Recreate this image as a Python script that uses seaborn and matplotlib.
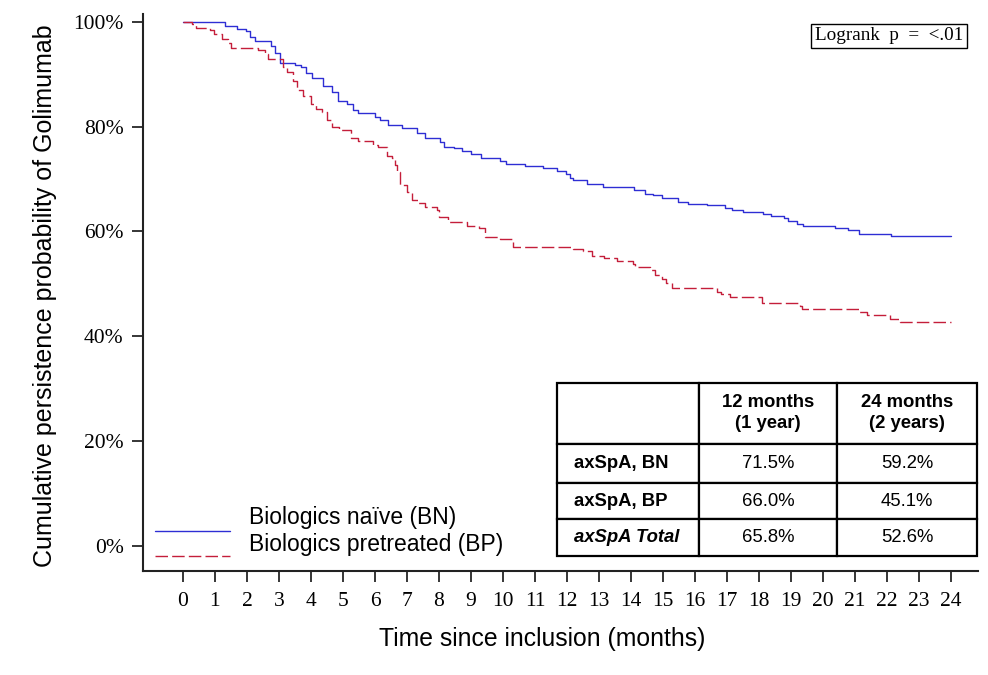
"""
Kaplan-Meier style persistence curves for Golimumab,
biologics naive (BN) vs biologics pretreated (BP).
"""

import matplotlib
matplotlib.use('Agg')
import matplotlib.pyplot as plt
import seaborn as sns
from matplotlib.ticker import PercentFormatter

# ── Data ─────────────────────────────────────────────────────────────────────
bn_time = [0, 1.30, 1.68, 1.96, 2.09, 2.25, 2.75, 2.88, 3.03, 3.50, 3.69, 3.83,
           4.04, 4.39, 4.65, 4.85, 5.11, 5.32, 5.48, 6.00, 6.16, 6.42, 6.83,
           7.30, 7.56, 8.03, 8.14, 8.47, 8.71, 8.99, 9.30, 9.91, 10.09, 10.69,
           11.24, 11.68, 11.96, 12.09, 12.20, 12.62, 13.12, 14.09, 14.44, 14.68,
           14.98, 15.48, 15.79, 16.36, 16.92, 17.15, 17.51, 18.13, 18.37, 18.79,
           18.90, 19.18, 19.38, 20.37, 20.77, 21.12, 22.12, 24.00]
bn_surv = [100, 99.3, 98.7, 98.2, 97.2, 96.4, 95.4, 94.1, 92.1, 91.7, 91.3, 90.3,
           89.2, 87.7, 86.7, 84.8, 84.3, 83.2, 82.6, 81.9, 81.3, 80.3, 79.7,
           78.8, 77.8, 77.0, 76.2, 75.9, 75.4, 74.8, 74.0, 73.5, 72.9, 72.5,
           72.1, 71.6, 71.0, 70.2, 69.8, 69.1, 68.4, 67.9, 67.2, 66.9,
           66.3, 65.7, 65.3, 65.0, 64.5, 64.1, 63.7, 63.4, 63.0, 62.5,
           61.9, 61.5, 61.1, 60.7, 60.2, 59.6, 59.1, 59.1]

bp_time = [0, 0.27, 0.41, 0.84, 0.97, 1.21, 1.40, 1.49, 2.35, 2.56, 2.67, 3.11,
           3.24, 3.45, 3.55, 3.76, 3.99, 4.15, 4.33, 4.49, 4.65, 4.89, 5.24,
           5.48, 5.95, 6.10, 6.36, 6.52, 6.63, 6.68, 6.78, 6.99, 7.15, 7.35,
           7.56, 7.93, 8.01, 8.29, 8.86, 9.26, 9.44, 9.91, 10.27, 10.32, 12.20,
           12.51, 12.77, 13.14, 13.55, 14.07, 14.13, 14.59, 14.75, 14.96, 15.10,
           15.28, 16.68, 16.80, 17.09, 18.08, 19.28, 19.33, 21.11, 21.37, 22.08,
           22.40, 24.00]
bp_surv = [100, 99.6, 98.9, 98.5, 97.7, 96.7, 95.9, 95.0, 94.7, 93.8, 92.9, 91.4,
           90.5, 88.7, 87.0, 85.9, 84.3, 83.3, 82.7, 81.3, 80.0, 79.4, 77.8,
           77.2, 76.5, 76.2, 74.3, 74.0, 72.7, 71.4, 68.9, 67.6, 66.0, 65.4,
           64.6, 64.1, 62.8, 61.8, 61.1, 60.6, 59.0, 58.5, 58.1, 57.1, 56.7,
           56.2, 55.4, 55.0, 54.4, 53.8, 53.3, 52.7, 51.6, 50.9, 50.2,
           49.2, 48.5, 48.0, 47.5, 46.3, 45.7, 45.2, 44.6, 44.0, 43.3,
           42.7, 42.7]

x_ticks = list(range(0, 25))
y_ticks = [0, 20, 40, 60, 80, 100]

legend_labels = ['Biologics naïve (BN)', 'Biologics pretreated (BP)']

table_header = ['', '12 months\n(1 year)', '24 months\n(2 years)']
table_rows   = ['axSpA, BN', 'axSpA, BP', 'axSpA Total']
table_12m    = ['71.5%', '66.0%', '65.8%']
table_24m    = ['59.2%', '45.1%', '52.6%']

logrank_text = 'Logrank  p  =  <.01'

# ── Style ────────────────────────────────────────────────────────────────────
sns.set_style('ticks')
plt.rcParams['font.family'] = ['Liberation Sans', 'DejaVu Sans']
plt.rcParams['text.color'] = 'black'
plt.rcParams['axes.labelcolor'] = 'black'

BLUE = '#2e2ed4'
RED  = '#c41e3a'
SERIF = 'Liberation Serif'

fig = plt.figure(figsize=(9.88, 6.75), dpi=100)
ax = fig.add_axes([0.1447, 0.1541, 0.8452, 0.8252])

sns.lineplot(x=bn_time, y=bn_surv, drawstyle='steps-post', estimator=None,
             sort=False, color=BLUE, lw=1.0, ax=ax)
sns.lineplot(x=bp_time, y=bp_surv, drawstyle='steps-post', estimator=None,
             sort=False, color=RED, lw=1.0, linestyle=(0, (9, 3)), ax=ax)

ax.set_xlim(-1.25, 24.84)
ax.set_ylim(-4.8, 101.5)
ax.set_xticks(x_ticks)
ax.set_xticklabels([str(t) for t in x_ticks], family=SERIF, fontsize=15.5)
ax.set_yticks(y_ticks)
ax.yaxis.set_major_formatter(PercentFormatter(xmax=100, decimals=0))
for lbl in ax.get_yticklabels():
    lbl.set_family(SERIF)
    lbl.set_fontsize(15.5)
ax.tick_params(axis='both', direction='out', length=8, width=1.1,
               color='black', labelcolor='black')
ax.tick_params(axis='x', pad=7)
ax.tick_params(axis='y', pad=6)

for side in ['top', 'right']:
    ax.spines[side].set_visible(False)
for side in ['left', 'bottom']:
    ax.spines[side].set_color('#222222')
    ax.spines[side].set_linewidth(1.5)

ax.set_xlabel('Time since inclusion (months)', fontsize=17.8)
ax.set_ylabel('Cumulative persistence probability of Golimumab', fontsize=18)
ax.xaxis.set_label_coords(0.478, -0.100)
ax.yaxis.set_label_coords(-0.103, 0.495)

# ── Legend (drawn by hand, lower left) ──
ax.plot([0.0144, 0.104], [0.0718, 0.0718], transform=ax.transAxes,
        color=BLUE, lw=1.0)
ax.plot([0.0144, 0.104], [0.0269, 0.0269], transform=ax.transAxes,
        color=RED, lw=1.0, linestyle=(0, (9, 3)))
ax.text(0.127, 0.0844, legend_labels[0], transform=ax.transAxes,
        fontsize=16.5, va='baseline', ha='left')
ax.text(0.127, 0.0359, legend_labels[1], transform=ax.transAxes,
        fontsize=16.5, va='baseline', ha='left')

# ── Logrank box ──
ax.text(0.893, 0.9605, logrank_text, transform=ax.transAxes, family=SERIF,
        fontsize=13.8, ha='center', va='center',
        bbox=dict(boxstyle='square,pad=0.2', fc='white', ec='black', lw=1.0))

# ── Summary table ──
cell_text = [table_header] + [[r, a, b] for r, a, b in zip(table_rows, table_12m, table_24m)]
tbl = ax.table(cellText=cell_text, cellLoc='center',
               bbox=[0.4958, 0.0269, 0.5030, 0.3111], zorder=5)
tbl.auto_set_font_size(False)
col_w = [142, 138, 140]
row_h = [61, 38.7, 36.6, 36.4]
for (r, c), cell in tbl.get_celld().items():
    cell.set_width(col_w[c])
    cell.set_height(row_h[r])
    cell.set_linewidth(1.6)
    cell.set_edgecolor('black')
    cell.set_facecolor('white')
    txt = cell.get_text()
    txt.set_fontsize(13.3)
    txt.set_linespacing(1.3)
    txt.set_color('black')
    if r == 0:
        txt.set_fontweight('bold')
    if c == 0 and r > 0:
        txt.set_fontweight('bold')
        txt.set_ha('left')
        cell._loc = 'left'
        cell.PAD = 0.12
        if r == 3:
            txt.set_fontstyle('italic')

fig.savefig('out.png', dpi=100, facecolor='white')
plt.close(fig)
